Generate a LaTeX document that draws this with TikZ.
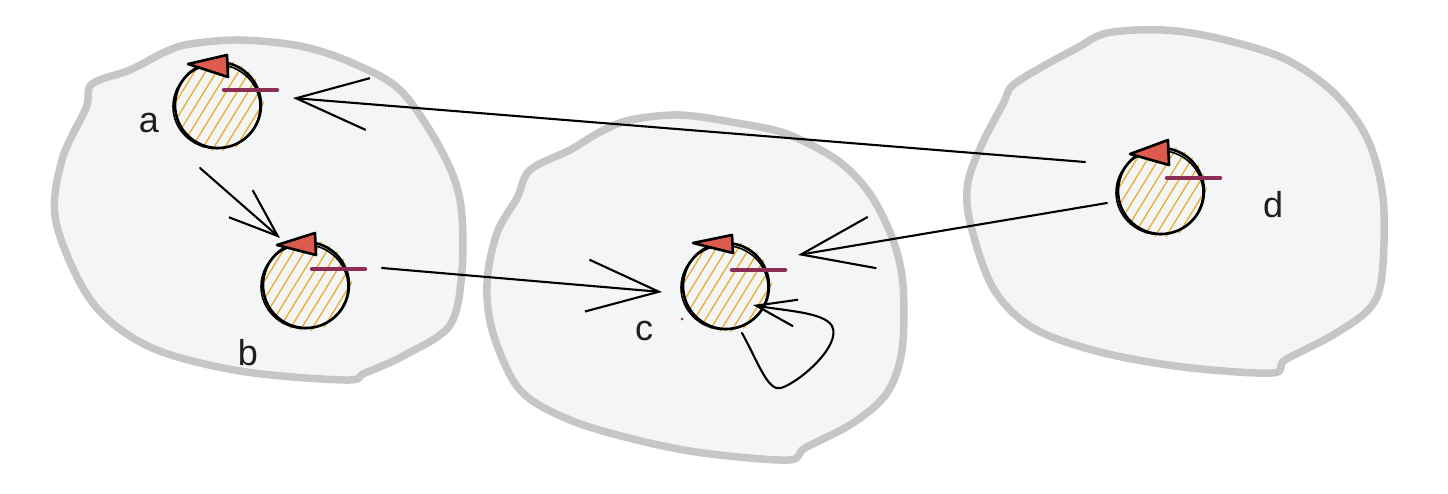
\documentclass[tikz,border=0pt]{standalone}
\usepackage{fontspec}
\setmainfont{Liberation Sans}
\usetikzlibrary{arrows.meta}
\definecolor{blobfill}{HTML}{F4F5F7}
\definecolor{blobedge}{HTML}{C6C6C7}
\definecolor{hatchcol}{HTML}{E8B23A}
\definecolor{tricol}{HTML}{DC5A4E}
\definecolor{barcol}{HTML}{8C2D55}
\definecolor{txtcol}{HTML}{1E1E1E}
\tikzset{
  blob/.style={draw=blobedge, line width=7.5pt, fill=blobfill, line join=round},
  ball/.style={circle, minimum size=86pt, inner sep=0pt, outer sep=0pt, draw=none},
  hatch/.style={draw=hatchcol, line width=1.4pt},
  outline/.style={draw=black, line width=2.6pt},
  tri/.style={fill=tricol, draw=black, line width=2.6pt, line join=round},
  bar/.style={draw=barcol, line width=4.5pt, line cap=round},
  arr/.style={draw=black, line width=2.1pt, line cap=round, line join=round},
  bigtip/.style={-{Straight Barb[length=72pt,width=52pt,line width=2.1pt]}},
  midtip/.style={-{Straight Barb[length=49pt,width=36pt,line width=2.1pt]}},
  smalltip/.style={-{Straight Barb[length=40pt,width=27pt,line width=2.1pt]}},
  lbl/.style={text=txtcol, font=\fontsize{36}{40}\selectfont, inner sep=0pt, anchor=base},
}
\newcommand{\sketchball}[7]{%
  % #1 name, #2-#3 triangle left, #4-#5 triangle top, #6 triangle bottom y, #7 bar y
  \begin{scope}
    \clip (#1.center) circle (46);
    \foreach \k in {-88,-77,...,88}
      \draw[hatch] ([shift={(\k-32,52)}]#1.center) -- ([shift={(\k+32,-52)}]#1.center);
  \end{scope}
  \draw[outline] (#1.center) circle (43);
  \draw[outline, line width=1.6pt] ([shift={(-1.5,1.5)}]#1.center) ellipse (43.5 and 42);
  \filldraw[tri] ([shift={(#2,#3)}]#1.center) -- ([shift={(#4,#5)}]#1.center)
      -- ([shift={(#4+1,#6)}]#1.center) -- cycle;
  \draw[bar] ([shift={(6,#7)}]#1.center) -- ([shift={(59,#7)}]#1.center);
}
\begin{document}
\begin{tikzpicture}[x=1pt,y=-1pt]
\useasboundingbox (0,0) rectangle (1448,493);
% blobs
\draw[blob] plot[smooth cycle, tension=0.55] coordinates {
  (92,84) (130,70) (165,52) (190,44) (240,40) (300,46) (350,62) (400,90) (440,148)
  (460,200) (462,270) (450,325) (405,355) (365,373) (345,380) (240,371) (150,347)
  (92,302) (56,222) (62,160) (86,108)};
\draw[blob] plot[smooth cycle, tension=0.55] coordinates {
  (530,170) (570,150) (600,132) (630,120) (680,115) (737,123) (787,134) (837,160)
  (870,194) (893,240) (903,285) (902,350) (887,393) (853,423) (805,448) (788,460)
  (703,453) (637,440) (570,420) (520,390) (493,333) (487,283) (497,233) (517,198)};
\draw[blob] plot[smooth cycle, tension=0.55] coordinates {
  (1012,86) (1040,68) (1077,48) (1107,33) (1163,30) (1217,38) (1283,58) (1333,92)
  (1367,138) (1383,198) (1382,275) (1370,308) (1333,335) (1285,360) (1272,373)
  (1183,367) (1100,352) (1033,328) (993,288) (970,222) (968,182) (983,142) (1003,104)};
% balls
\node[ball] (a) at (218,105) {};
\node[ball] (b) at (306,285) {};
\node[ball] (c) at (726,286) {};
\node[ball] (d) at (1161,191) {};
\sketchball{a}{-30}{-41}{9}{-50}{-28}{-15}
\sketchball{b}{-29}{-40}{9}{-52}{-30}{-16}
\sketchball{c}{-33}{-43}{6}{-51}{-33}{-16}
\sketchball{d}{-31}{-37}{7}{-51}{-26}{-13}
\fill[barcol] (682,319) circle (1.5);
% connectors
\draw[arr, bigtip] ([shift={(-76,-29)}]d.center) -- ([shift={(75,-7)}]a.center);
\draw[arr, bigtip] ([shift={(-54,12)}]d.center) -- ([shift={(72,-31)}]c.center);
\draw[arr, bigtip] ([shift={(76,-17)}]b.center) -- ([shift={(-64,6)}]c.center);
\draw[arr, midtip] ([shift={(-18,63)}]a.center) -- ([shift={(-26,-47)}]b.center);
\draw[arr, smalltip] ([shift={(16,47)}]c.center) .. controls (758,362) and (768,392) .. (781,388)
   .. controls (800,382) and (842,345) .. (832,326)
   .. controls (824,312) and (785,311) .. ([shift={(27,19)}]c.center);
% labels
\node[lbl] (la) at (149,132) {a};
\node[lbl] (lb) at (248,365) {b};
\node[lbl] (lc) at (644,340) {c};
\node[lbl] (ld) at (1273,217) {d};
\end{tikzpicture}
\end{document}
